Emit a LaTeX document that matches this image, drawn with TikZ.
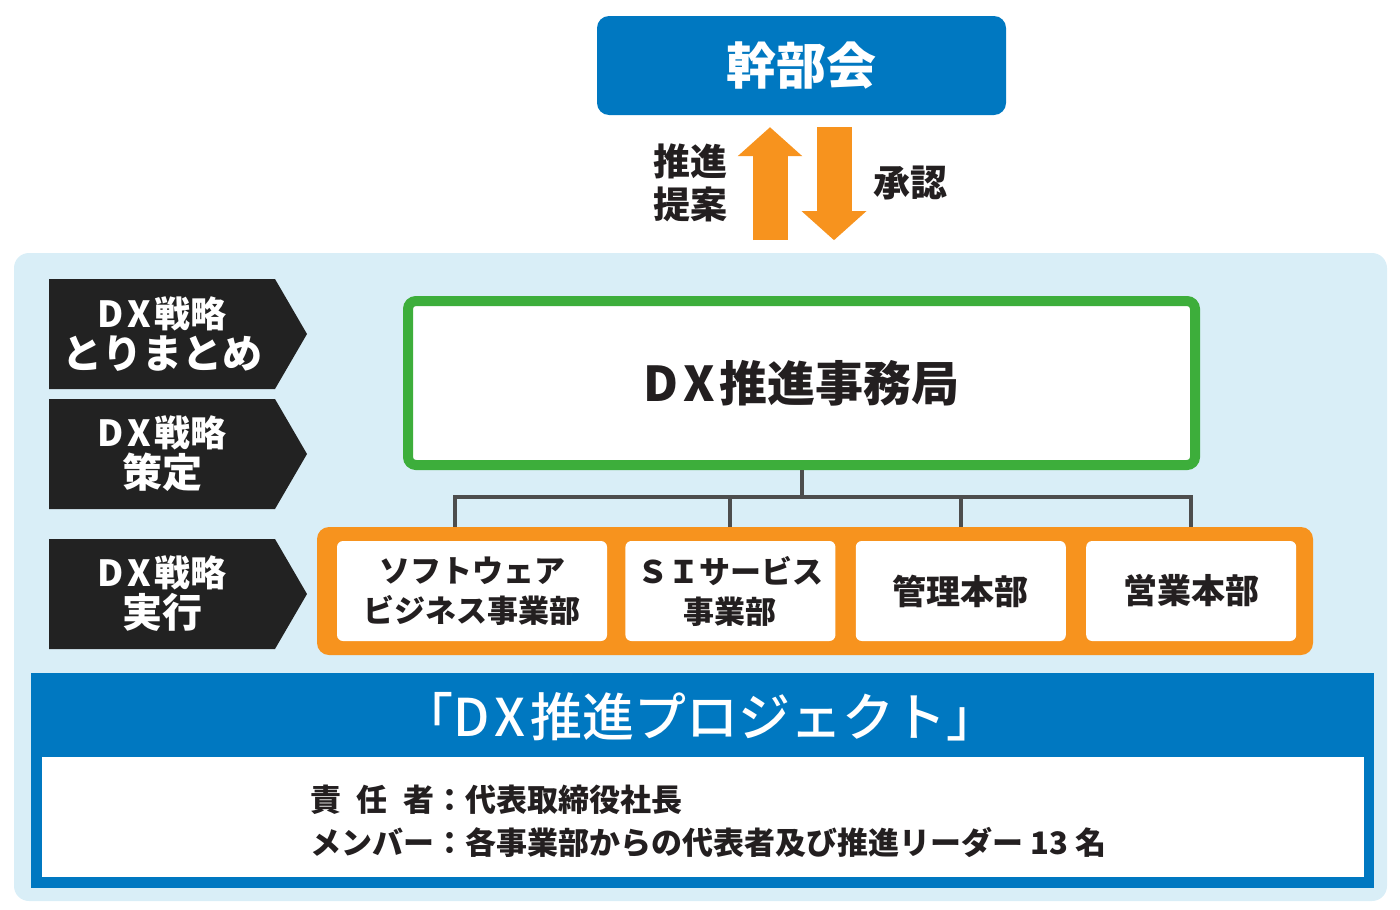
\documentclass[tikz,border=0pt]{standalone}
\usepackage{fontspec}
\setmainfont{Noto Sans CJK JP}
\newfontfamily\mittel{Noto Sans CJK JP Medium}
\usetikzlibrary{positioning, arrows.meta}

\definecolor{dxblau}{HTML}{0078C1}
\definecolor{hellblau}{HTML}{D9EEF7}
\definecolor{dxorange}{HTML}{F7931E}
\definecolor{dxgruen}{HTML}{3DAE3B}
\definecolor{dunkel}{HTML}{222222}
\definecolor{linie}{HTML}{4D4D4D}
\definecolor{schrift}{HTML}{231F20}

\newcommand{\dx}{D\kern0.1em X\kern0.1em}

\begin{document}
\begin{tikzpicture}[x=1pt, y=-1pt,
  abteilung/.style={rectangle, fill=white, rounded corners=6pt, minimum width=210pt, minimum height=100pt, inner sep=0pt, align=center, text=schrift, font=\bfseries\fontsize{31}{40}\selectfont},
  etikett/.style={align=center, text=white, font=\bfseries\fontsize{36}{41}\selectfont},
  pfeillabel/.style={align=center, text=schrift, font=\bfseries\fontsize{37}{43}\selectfont},
  blockpfeil/.style={draw=dxorange, line width=35pt, -{Triangle[width=63pt, length=29pt]}},
  verbindung/.style={draw=linie, line width=4pt}]

  \useasboundingbox (0,0) rectangle (1400,910);

  % Hintergrund
  \fill[hellblau, rounded corners=15pt] (14,253) rectangle (1387,901);

  % Kopfbox und Pfeile
  \node[rectangle, fill=dxblau, rounded corners=12pt, minimum width=409pt, minimum height=99pt, text=white, font=\bfseries\fontsize{50}{50}\selectfont] (kanbu) at (801.5,65.5) {幹部会};
  \draw[blockpfeil] ([xshift=-31.5pt, yshift=-125pt]kanbu.south) -- ([xshift=-31.5pt, yshift=-12pt]kanbu.south);
  \draw[blockpfeil] ([xshift=32.5pt, yshift=-12pt]kanbu.south) -- ([xshift=32.5pt, yshift=-125pt]kanbu.south);
  \node[pfeillabel] (teian) at (690,183) {推進\\提案};
  \node[pfeillabel] (shonin) at (910,183) {承認};

  % Etiketten links
  \foreach \y/\txt [count=\i] in {279/{とりまとめ}, 399/{策定}, 539/{実行}} {
    \fill[dunkel] (49,\y) -- ++(226,0) -- ++(32,55) -- ++(-32,55) -- ++(-226,0) -- cycle;
    \node[etikett] (etikett\i) at (162,\y+55) {\dx 戦略\\{\fontsize{40}{41}\selectfont\txt}};
  }

  % Geschaeftsstelle
  \node[rectangle, draw=dxgruen, line width=10pt, fill=white, rounded corners=8pt, minimum width=787pt, minimum height=164pt, text=schrift, font=\bfseries\fontsize{48}{48}\selectfont] (jimu) at (801.5,383) {\dx 推進事務局};

  % Abteilungen
  \node[rectangle, fill=dxorange, rounded corners=12pt, minimum width=996pt, minimum height=128pt] (rahmen) at (815,591) {};
  \node[abteilung, minimum width=270pt] (sw) at (472,591) {ソフトウェア\\ビジネス事業部};
  \node[abteilung, right=18pt of sw] (si) {ＳＩサービス\\事業部};
  \node[abteilung, right=20pt of si, font=\bfseries\fontsize{34}{40}\selectfont] (kanri) {管理本部};
  \node[abteilung, right=20pt of kanri, font=\bfseries\fontsize{34}{40}\selectfont] (eigyo) {営業本部};

  % Linien
  \draw[verbindung] (jimu.south) -- ++(0,27) -| ([xshift=-17pt]sw.north |- rahmen.north);
  \foreach \z in {si, kanri, eigyo}
    \draw[verbindung] (jimu.south) -- ++(0,27) -| (\z.north |- rahmen.north);

  % Projekt
  \node[rectangle, fill=dxblau, minimum width=1343pt, minimum height=215pt, inner sep=0pt] (projekt) at (702.5,780.5) {};
  \node[rectangle, fill=white, minimum width=1322pt, minimum height=120pt, inner sep=0pt, anchor=south] (liste) at ([yshift=11pt]projekt.south) {};
  \node[text=white, font=\mittel\fontsize{52}{52}\selectfont] (titel) at (700,717) {「\dx 推進プロジェクト」};
  \node[anchor=west, inner sep=0pt, text=schrift, font=\bfseries\fontsize{31}{31}\selectfont] (leiter) at (310,800) {\makebox[4em][s]{責\hfill 任\hfill 者}：代表取締役社長};
  \node[anchor=west, inner sep=0pt, text=schrift, font=\bfseries\fontsize{31}{31}\selectfont] (mitglied) at (310,842) {メンバー：各事業部からの代表者及び推進リーダー 13 名};
\end{tikzpicture}
\end{document}
